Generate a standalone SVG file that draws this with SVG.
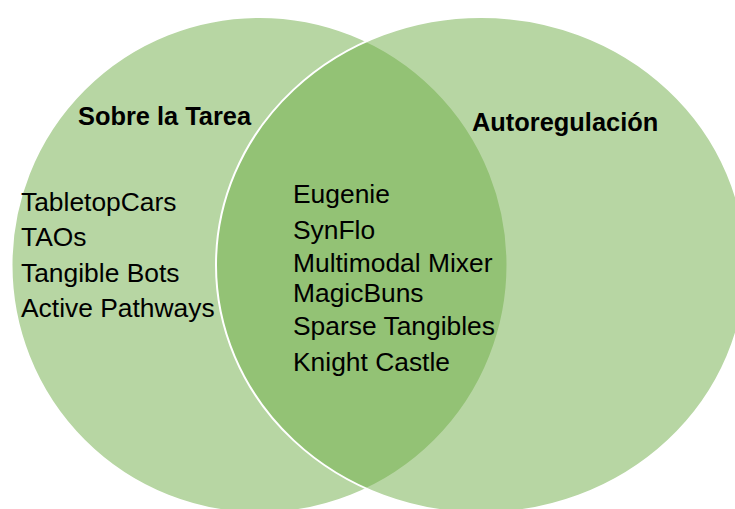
<svg xmlns="http://www.w3.org/2000/svg" width="735" height="509" viewBox="0 0 735 509">
  <style>
    .set { fill: #70AD47; fill-opacity: 0.5; stroke: #FFFFFF; stroke-width: 2; }
    .head { font-family: "Liberation Sans", Arial, sans-serif; font-weight: bold; font-size: 25.4px; fill: #000000; }
    .item { font-family: "Liberation Sans", Arial, sans-serif; font-size: 26.4px; fill: #000000; }
  </style>
  <rect width="735" height="509" fill="#FFFFFF"/>
  <g id="set-sobre-la-tarea">
    <ellipse class="set" cx="259.5" cy="265" rx="248" ry="248"/>
  </g>
  <g id="set-autoregulacion">
    <ellipse class="set" cx="481" cy="265" rx="265" ry="248"/>
  </g>
  <g id="label-sobre-la-tarea">
    <text class="head" x="78" y="125">Sobre la Tarea</text>
  </g>
  <g id="label-autoregulacion">
    <text class="head" x="472" y="130.5">Autoregulación</text>
  </g>
  <g id="items-sobre-la-tarea">
    <text class="item" x="21" y="210.5">TabletopCars</text>
    <text class="item" x="21" y="246">TAOs</text>
    <text class="item" x="21" y="281.5">Tangible Bots</text>
    <text class="item" x="21" y="317">Active Pathways</text>
  </g>
  <g id="items-interseccion">
    <text class="item" x="293" y="202.5">Eugenie</text>
    <text class="item" x="293" y="238.5">SynFlo</text>
    <text class="item" x="293" y="271.5">Multimodal Mixer</text>
    <text class="item" x="293" y="301.5">MagicBuns</text>
    <text class="item" x="293" y="335">Sparse Tangibles</text>
    <text class="item" x="293" y="370.5">Knight Castle</text>
  </g>
</svg>
